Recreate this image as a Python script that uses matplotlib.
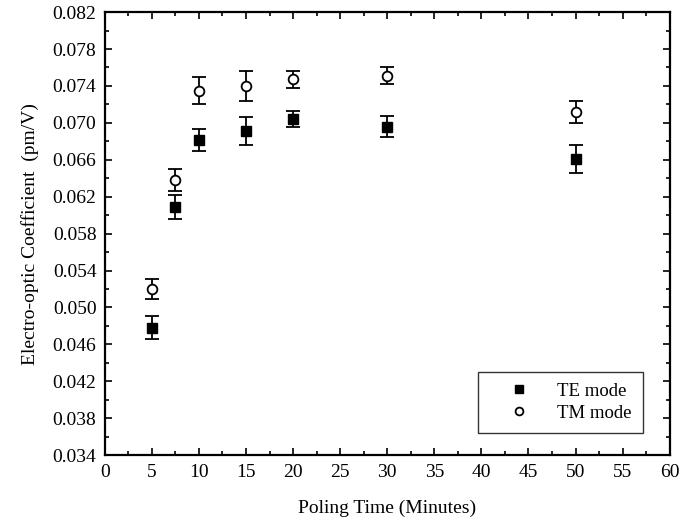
import matplotlib
matplotlib.use('AGG')
import matplotlib.pyplot as plt
from matplotlib.ticker import MultipleLocator, FormatStrFormatter

# Poling time (minutes)
poling_time = [5, 7.5, 10, 15, 20, 30, 50]

# Electro-optic coefficient (pm/V) and error bars
te_mode = [0.0478, 0.0609, 0.0681, 0.0691, 0.0704, 0.0696, 0.0661]
te_err = [0.00125, 0.0013, 0.0012, 0.0015, 0.0009, 0.0011, 0.0015]
tm_mode = [0.0520, 0.0638, 0.0735, 0.0740, 0.0747, 0.0751, 0.0712]
tm_err = [0.0011, 0.0012, 0.0015, 0.0016, 0.0009, 0.0009, 0.0012]

plt.rcParams['font.family'] = ['Liberation Serif', 'DejaVu Serif']

fig = plt.figure(figsize=(6.94, 5.25), dpi=100)
ax = fig.add_axes([0.151, 0.133, 0.814, 0.844])

ax.errorbar(poling_time, te_mode, yerr=te_err, fmt='s', color='black',
            markersize=7, capsize=5, elinewidth=1.3, capthick=1.3,
            label='TE mode')
ax.errorbar(poling_time, tm_mode, yerr=tm_err, fmt='o', color='black',
            markerfacecolor='white', markersize=7, markeredgewidth=1.3,
            capsize=5, elinewidth=1.3, capthick=1.3, label='TM mode')

ax.set_xlim(0, 60)
ax.set_ylim(0.034, 0.082)
ax.xaxis.set_major_locator(MultipleLocator(5))
ax.xaxis.set_minor_locator(MultipleLocator(2.5))
ax.yaxis.set_major_locator(MultipleLocator(0.004, offset=0.002))
ax.yaxis.set_minor_locator(MultipleLocator(0.002))
ax.yaxis.set_major_formatter(FormatStrFormatter('%.3f'))

ax.tick_params(which='both', direction='in', top=True, right=True,
               labelsize=14, width=1.2)
ax.tick_params(which='major', length=5, pad=6)
ax.tick_params(which='minor', length=3)
for spine in ax.spines.values():
    spine.set_linewidth(1.6)

ax.set_xlabel('Poling Time (Minutes)', fontsize=14, labelpad=14)
ax.set_ylabel('Electro-optic Coefficient  (pm/V)', fontsize=14, labelpad=10)

# Legend: show markers only, without error bars
handles, labels = ax.get_legend_handles_labels()
handles = [h[0] for h in handles]
leg = ax.legend(handles, labels, loc='lower right',
                bbox_to_anchor=(0.952, 0.05), borderaxespad=0,
                fontsize=13.5, frameon=True, fancybox=False,
                edgecolor='black', borderpad=0.6, handletextpad=0.4,
                labelspacing=0.25, handlelength=3.2, markerscale=0.8)
leg.get_frame().set_linewidth(1.0)

plt.savefig('out.png', dpi=100)
